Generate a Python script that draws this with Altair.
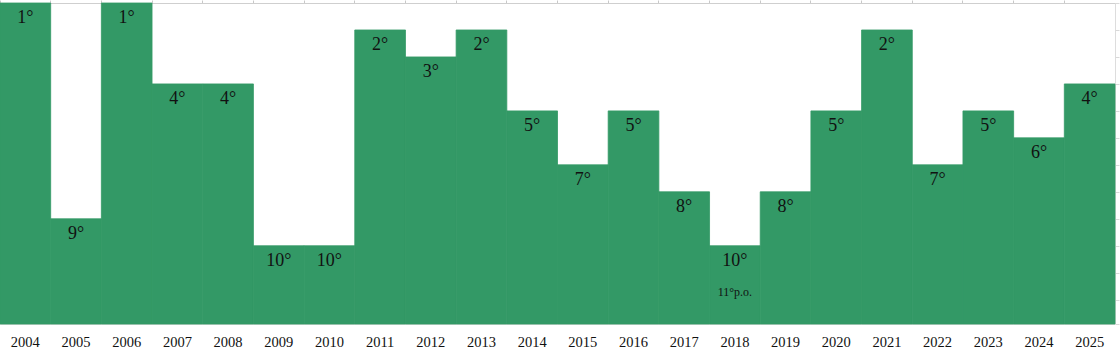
import altair as alt
import pandas as pd

years = [str(y) for y in range(2004, 2026)]
ranks = [1, 9, 1, 4, 4, 10, 10, 2, 3, 2, 5, 7, 5, 8, 10, 8, 5, 2, 7, 5, 6, 4]
labels = [f"{r}°" for r in ranks]

note_years = ["2018"]
note_ranks = [10]
note_texts = ["11°p.o."]

BOTTOM = 12.9
GREEN = "#339966"
FONT = "Liberation Serif"

df = pd.DataFrame({"year": years, "rank": ranks, "label": labels})
notes = pd.DataFrame({"year": note_years, "rank": note_ranks, "text": note_texts})

x_scale = alt.Scale(paddingInner=0, paddingOuter=0)
y_scale = alt.Scale(domain=[1, BOTTOM], reverse=True, zero=False, nice=False)

bars = alt.Chart(df).mark_bar(color=GREEN, stroke=GREEN, strokeWidth=0.8).encode(
    x=alt.X("year:N", scale=x_scale, sort=years, title=None,
            axis=alt.Axis(orient="bottom", labelAngle=0, domain=False, ticks=False,
                          tickSize=0, labelPadding=22, labelBaseline="alphabetic",
                          labelFont=FONT, labelFontSize=14.5, labelColor="#111111",
                          grid=False)),
    y=alt.Y("rank:Q", scale=y_scale, title=None,
            axis=alt.Axis(orient="right", values=list(range(1, 13)) + [BOTTOM],
                          labels=False, domain=False, ticks=True, tickSize=4,
                          tickColor="#d9d9d9", grid=False)),
    y2=alt.datum(BOTTOM),
)

text = alt.Chart(df).mark_text(font=FONT, fontSize=18, baseline="alphabetic",
                               dy=20, color="#111111").encode(
    x=alt.X("year:N", scale=x_scale, sort=years, title=None,
            axis=alt.Axis(orient="top", labels=False, domain=True, domainColor="#cfcfcf",
                          ticks=True, tickSize=3, tickColor="#c8c8c8", bandPosition=0,
                          grid=False)),
    y=alt.Y("rank:Q", scale=y_scale, axis=None),
    text="label:N",
)

note = alt.Chart(notes).mark_text(font=FONT, fontSize=12, baseline="alphabetic",
                                  dy=50, color="#111111").encode(
    x=alt.X("year:N", scale=x_scale, sort=years, axis=None),
    y=alt.Y("rank:Q", scale=y_scale, axis=None),
    text="text:N",
)

chart = alt.layer(bars, text, note).resolve_axis(x="independent", y="independent").properties(
    width=1115, height=321,
    autosize=alt.AutoSizeParams(type="none"),
    padding={"left": 0, "top": 3, "right": 5, "bottom": 27},
).configure_view(stroke=None).configure(background="white")

chart.save("out.html", embed_options={"renderer": "svg", "actions": False})
